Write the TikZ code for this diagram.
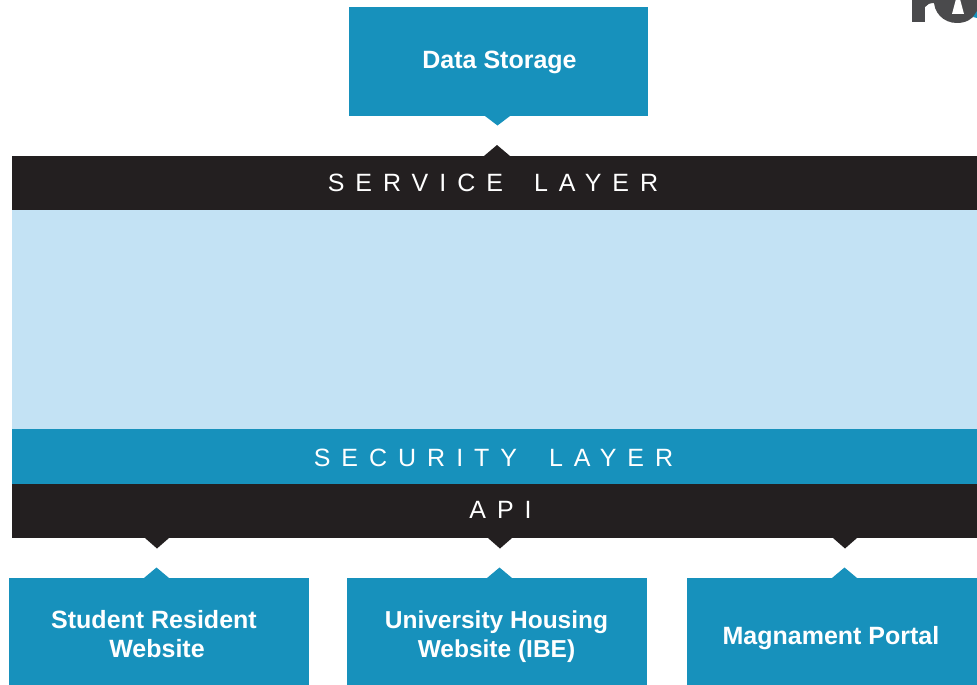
\documentclass[tikz,border=0pt]{standalone}
\usepackage{fontspec}
\setmainfont{Liberation Sans}
\definecolor{teal}{HTML}{1791BC}
\definecolor{ink}{HTML}{231F20}
\definecolor{pale}{HTML}{C3E2F4}
\definecolor{logo}{HTML}{4A4A4C}
\newfontfamily\spaced[LetterSpace=44]{Liberation Sans}
\tikzset{
  bar/.style={anchor=north west,inner sep=0pt,outer sep=0pt,minimum height=#1,minimum width=965pt},
  boxn/.style={anchor=north west,inner sep=0pt,outer sep=0pt,fill=teal},
  boxtext/.style={text=white,align=center,inner sep=0pt,font=\bfseries\fontsize{25}{29}\selectfont},
  captext/.style={text=white,font=\spaced\fontsize{25}{30}\selectfont,inner sep=0pt}
}
\begin{document}
\begin{tikzpicture}[x=1pt,y=-1pt]
\useasboundingbox (0,0) rectangle (977,685);
\fill[white] (0,0) rectangle (977,685);
% logo fragment
\fill[logo] (912,-1) rectangle (925,22);
\fill[logo] (925,-1) -- (925,7) .. controls (927,4) and (930,3) .. (935,3) -- (935,-1) -- cycle;
\fill[logo] (934,-1) .. controls (933,12) and (943,23) .. (957,23) .. controls (966,23) and (973,19) .. (977,12) -- (977,-1) -- cycle;
\fill[white] (952,14) -- (956,-1) -- (960,-1) -- (964,14) -- cycle;
\fill[teal] (973,17) -- (977,11) -- (977,18) -- cycle;
% layers
\node[bar=54pt,fill=ink] (service) at (12,156) {};
\node[bar=219pt,fill=pale] (body) at (12,210) {};
\node[bar=55pt,fill=teal] (security) at (12,429) {};
\node[bar=54pt,fill=ink] (api) at (12,484) {};
\node[captext] (servicetext) at (493,183) {SERVICE\hspace{13pt} LAYER};
\node[captext] (securitytext) at (493.5,458) {SECURITY\hspace{14pt} LAYER};
\node[captext] (apitext) at (500.5,510) {API};
% boxes
\node[boxn,minimum width=299pt,minimum height=109pt] (storage) at (348.5,7) {};
\node[boxtext] (storagetext) at (499.5,62) {Data Storage};
\node[boxn,minimum width=300pt,minimum height=107pt] (student) at (8.5,578) {};
\node[boxtext] (studenttext) at (154,634.5) {Student Resident\\\hspace*{6pt}Website};
\node[boxn,minimum width=300pt,minimum height=107pt] (housing) at (347,578) {};
\node[boxtext,font=\bfseries\fontsize{24.5}{29}\selectfont] (housingtext) at (496.5,636.5) {University Housing\\Website (IBE)};
\node[boxn,minimum width=290pt,minimum height=107pt] (portal) at (687,578) {};
\node[boxtext] (portaltext) at (831,638) {Magnament Portal};
% notches
\fill[teal] (485,116) -- (497.5,125.5) -- (510,116) -- cycle;
\fill[ink] (484,156) -- (497,145) -- (510,156) -- cycle;
\fill[ink] (145,538) -- (157,548.5) -- (169,538) -- cycle;
\fill[ink] (488,538) -- (500,548.5) -- (512,538) -- cycle;
\fill[ink] (833,538) -- (845,548.5) -- (857,538) -- cycle;
\fill[teal] (144,578) -- (156.5,567.5) -- (169,578) -- cycle;
\fill[teal] (487,578) -- (499.5,567.5) -- (512,578) -- cycle;
\fill[teal] (832,578) -- (844.5,567.5) -- (857,578) -- cycle;
\end{tikzpicture}
\end{document}
